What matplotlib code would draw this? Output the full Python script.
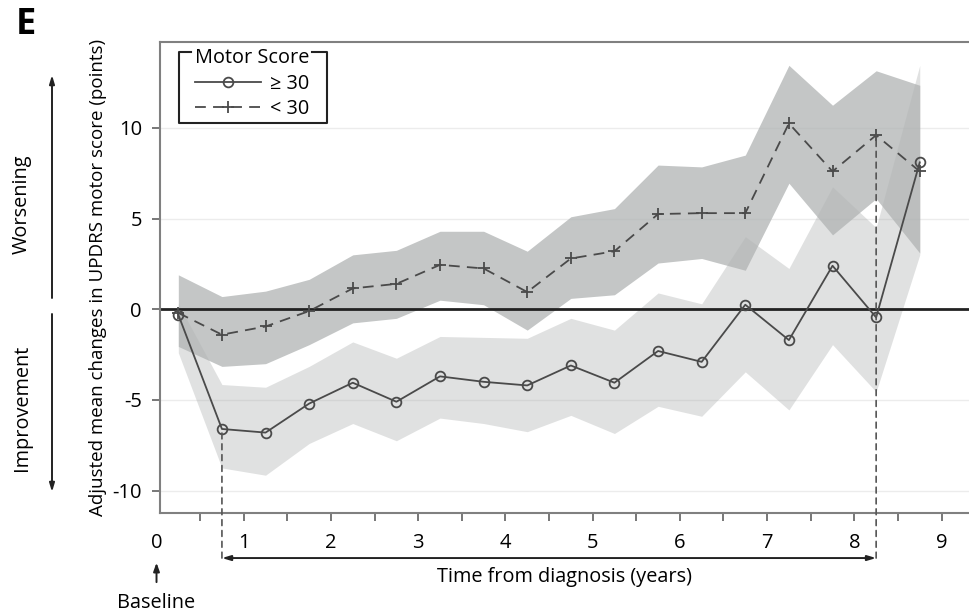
import numpy as np
import matplotlib
matplotlib.use("Agg")
import matplotlib.pyplot as plt
from matplotlib.lines import Line2D
from matplotlib.transforms import blended_transform_factory

plt.rcParams['font.family'] = ['Open Sans', 'DejaVu Sans']

# time points (years from diagnosis)
years = [0.25, 0.75, 1.25, 1.75, 2.25, 2.75, 3.25, 3.75, 4.25,
         4.75, 5.25, 5.75, 6.25, 6.75, 7.25, 7.75, 8.25, 8.75]

# motor score >= 30
hi_mean = [-0.3, -6.6, -6.8, -5.2, -4.05, -5.1, -3.7, -4.0, -4.2,
           -3.1, -4.05, -2.3, -2.9, 0.25, -1.7, 2.4, -0.45, 8.1]
hi_upper = [0.3, -4.15, -4.3, -3.15, -1.8, -2.7, -1.5, -1.55, -1.6,
            -0.5, -1.15, 0.9, 0.3, 4.0, 2.25, 6.75, 4.5, 13.45]
hi_lower = [-2.4, -8.75, -9.15, -7.4, -6.3, -7.25, -6.0, -6.3, -6.75,
            -5.85, -6.85, -5.35, -5.9, -3.45, -5.55, -1.95, -4.55, 3.0]

# motor score < 30
lo_mean = [-0.2, -1.4, -0.95, -0.1, 1.15, 1.4, 2.45, 2.25, 0.95,
           2.8, 3.2, 5.25, 5.3, 5.3, 10.25, 7.6, 9.6, 7.6]
lo_upper = [1.9, 0.7, 1.0, 1.65, 3.0, 3.25, 4.3, 4.3, 3.2,
            5.1, 5.55, 7.95, 7.85, 8.5, 13.45, 11.25, 13.15, 12.35]
lo_lower = [-2.05, -3.15, -3.0, -1.95, -0.75, -0.5, 0.5, 0.25, -1.15,
            0.6, 0.8, 2.55, 2.8, 2.15, 6.95, 4.1, 6.1, 3.1]

xtick_pos = np.arange(0.5, 9.01, 0.5)
xtick_lab = [str(int(v)) if v == int(v) else '' for v in xtick_pos]
ytick_pos = [-10, -5, 0, 5, 10]
ytick_lab = ['-10', '-5', '0', '5', '10']

fig = plt.figure(figsize=(9.7, 6.13), dpi=100)
ax = fig.add_axes([160 / 970, 1 - 513.3 / 613, 810 / 970, 471 / 613])

ax.fill_between(years, hi_lower, hi_upper, color='#9a9d9d', alpha=0.3, lw=0)
ax.fill_between(years, lo_lower, lo_upper, color='#b0b3b3', alpha=0.75, lw=0)

for g in [-10, -5, 5, 10]:
    ax.axhline(g, color='#ececec', lw=1, zorder=0.5)
ax.axhline(0, color='#222222', lw=2, zorder=1.5)

l1, = ax.plot(years, hi_mean, color='#4a4a4a', lw=1.3, marker='o', ms=7,
              mfc='none', mec='#4a4a4a', mew=1.3, zorder=3)
l2, = ax.plot(years, lo_mean, color='#4a4a4a', lw=1.3, ls=(0, (6, 4)),
              marker='+', ms=8.5, mew=1.3, zorder=3)

ax.set_xlim(0.04, 9.326)
ax.set_ylim(-11.25, 14.72)
ax.set_xticks(xtick_pos)
ax.set_xticklabels(xtick_lab)
ax.set_yticks(ytick_pos)
ax.set_yticklabels(ytick_lab)
ax.tick_params(length=6, width=1.4, color='#777777', labelsize=14.5, pad=7)
ax.tick_params(axis='x', pad=8)
for s in ['left', 'bottom', 'top']:
    ax.spines[s].set_color('#808080')
    ax.spines[s].set_linewidth(1.5)
ax.spines['right'].set_visible(False)

ax.text(-0.0765, 0.5, 'Adjusted mean changes in UPDRS motor score (points)',
        transform=ax.transAxes, rotation=90, ha='center', va='center', fontsize=13.5)

bt = blended_transform_factory(ax.transData, ax.transAxes)
# baseline label
ax.text(0, -0.063, '0', transform=bt, ha='center', va='center', fontsize=14.5)
ax.annotate('', xy=(0, -0.099), xycoords=bt, xytext=(0, -0.152), textcoords=bt,
            arrowprops=dict(arrowstyle='-|>,head_length=0.5,head_width=0.18',
                            color='#222222', lw=1.4))
ax.text(0, -0.202, 'Baseline', transform=bt, ha='center', va='baseline', fontsize=14.3)

# time span arrow
ax.annotate('', xy=(0.75, -0.095), xycoords=bt, xytext=(8.25, -0.095), textcoords=bt,
            arrowprops=dict(arrowstyle='<|-|>,head_length=0.5,head_width=0.15',
                            color='#222222', lw=1.4, shrinkA=0, shrinkB=0))
ax.text(4.68, -0.145, 'Time from diagnosis (years)', transform=bt, ha='center',
        va='baseline', fontsize=14.3)

# dashed guide lines
ax.annotate('', xy=(0.75, hi_mean[1]), xycoords='data', xytext=(0.75, -0.095), textcoords=bt,
            arrowprops=dict(arrowstyle='-', color='#555555', lw=1.2, ls=(0, (3.5, 3)),
                            shrinkA=0, shrinkB=0))
ax.annotate('', xy=(8.25, lo_mean[16]), xycoords='data', xytext=(8.25, -0.095), textcoords=bt,
            arrowprops=dict(arrowstyle='-', color='#555555', lw=1.2, ls=(0, (3.5, 3)),
                            shrinkA=0, shrinkB=0))

# left side annotations
fig.text(22 / 970, 1 - 204 / 613, 'Worsening', rotation=90, ha='center', va='center', fontsize=14.3)
fig.text(22 / 970, 1 - 408 / 613, 'Improvement', rotation=90, ha='center', va='center', fontsize=14.3)
ax.annotate('', xy=(52 / 970, 1 - 75 / 613), xycoords='figure fraction',
            xytext=(52 / 970, 1 - 298 / 613), textcoords='figure fraction',
            arrowprops=dict(arrowstyle='-|>,head_length=0.5,head_width=0.15',
                            color='#222222', lw=1.4, shrinkA=0, shrinkB=0))
ax.annotate('', xy=(52 / 970, 1 - 492 / 613), xycoords='figure fraction',
            xytext=(52 / 970, 1 - 314 / 613), textcoords='figure fraction',
            arrowprops=dict(arrowstyle='-|>,head_length=0.5,head_width=0.15',
                            color='#222222', lw=1.4, shrinkA=0, shrinkB=0))

fig.text(26 / 970, 1 - 25 / 613, 'E', ha='center', va='center', fontsize=26, fontweight='bold')

leg = ax.legend([l1, l2], ['≥ 30', '< 30'], title='Motor Score', loc='upper left',
                bbox_to_anchor=(0.0358, 1.0), frameon=False, handlelength=3.3,
                handletextpad=0.45, labelspacing=0.28, borderpad=0.3, borderaxespad=0,
                fontsize=14.3, title_fontsize=14.3, numpoints=1)

# bracket style legend frame, broken by the title
fig.canvas.draw()
r = fig.canvas.get_renderer()
bb = leg.get_window_extent(r)
tb = leg.get_title().get_window_extent(r)
inv = fig.transFigure.inverted()
top = tb.y0 + 0.82 * tb.height
left = bb.x0 - 10
right = bb.x1 + 12
bottom = bb.y0 + 2
pts = [(tb.x0 - 4, top), (left, top), (left, bottom), (right, bottom),
       (right, top), (tb.x1 + 3, top)]
pts = inv.transform(pts)
fig.add_artist(Line2D(pts[:, 0], pts[:, 1], color='#222222', lw=1.5,
                      transform=fig.transFigure))

fig.savefig('out.png', dpi=100)
